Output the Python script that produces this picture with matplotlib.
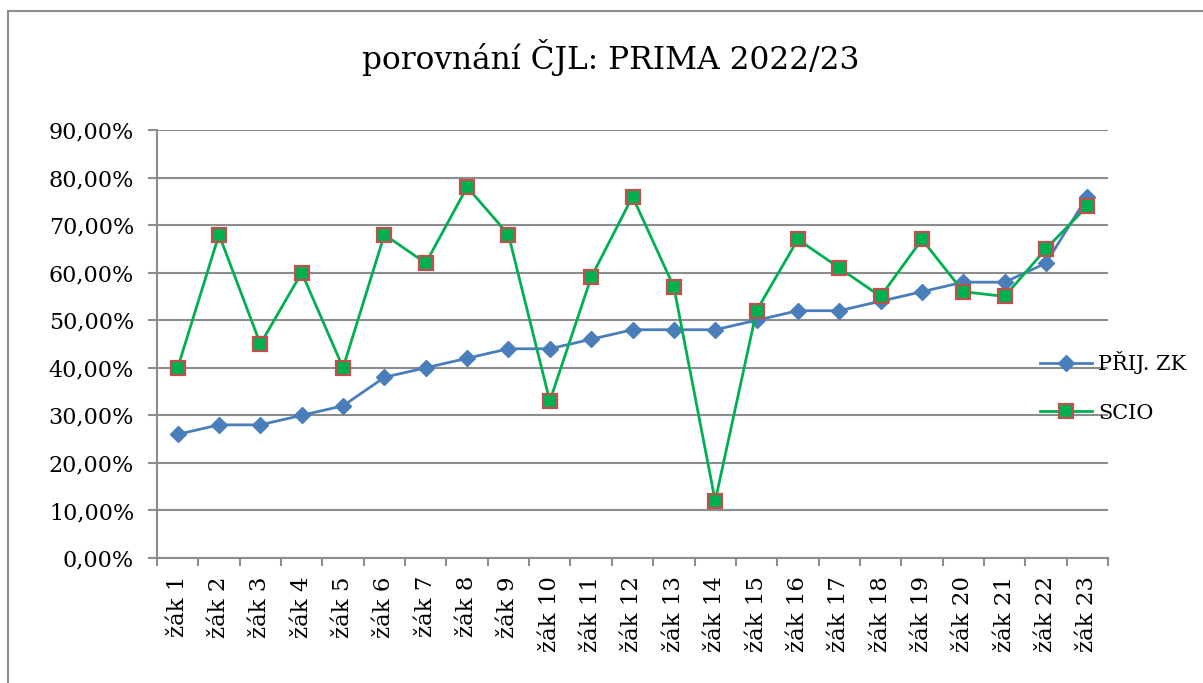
import matplotlib
matplotlib.use("Agg")
import matplotlib.pyplot as plt
from matplotlib.patches import Rectangle
from matplotlib.ticker import FuncFormatter

# data (percent)
zaci = ["žák %d" % i for i in range(1, 24)]
prij_zk = [26, 28, 28, 30, 32, 38, 40, 42, 44, 44, 46, 48, 48, 48, 50, 52, 52, 54, 56, 58, 58, 62, 76]
scio = [40, 68, 45, 60, 40, 68, 62, 78, 68, 33, 59, 76, 57, 12, 52, 67, 61, 55, 67, 56, 55, 65, 74]

plt.rcParams['font.family'] = ['DejaVu Serif']

fig = plt.figure(figsize=(12.03, 6.83), dpi=100)
W, H = 1203, 683

# outer chart frame
fig.patches.append(Rectangle((8 / W, -0.05), 1.2, 1 - 11 / H + 0.05, transform=fig.transFigure,
                             fill=False, edgecolor="#8c8c8c", linewidth=1.5))

ax = fig.add_axes([157 / W, 1 - 558 / H, (1108 - 157) / W, (558 - 130) / H])

x = range(len(zaci))
ax.plot(x, prij_zk, color="#4A7EBB", linewidth=2.0, marker="D", markersize=8.5,
        markerfacecolor="#4A7EBB", markeredgecolor="#4A7EBB", label="PŘIJ. ZK", zorder=3)
ax.plot(x, scio, color="#00B050", linewidth=2.0, marker="s", markersize=10,
        markerfacecolor="#00B050", markeredgecolor="#C0504D", markeredgewidth=1.6,
        label="SCIO", zorder=4)

ax.set_xlim(-0.5, len(zaci) - 0.5)
ax.set_ylim(0, 90)
ax.set_yticks(range(0, 91, 10))
ax.yaxis.set_major_formatter(FuncFormatter(lambda v, p: ("%.2f%%" % v).replace(".", ",")))
ax.grid(axis="y", color="#8c8c8c", linewidth=1.5)
ax.set_axisbelow(True)

ax.set_xticks(list(x))
ax.set_xticklabels(zaci, rotation=90, fontsize=16.5)
ax.tick_params(axis="x", length=0, pad=13)
ax.set_xticks([i - 0.5 for i in range(len(zaci) + 1)], minor=True)
ax.tick_params(axis="x", which="minor", length=6, color="#8c8c8c", width=1.5)
ax.tick_params(axis="y", length=6.5, color="#8c8c8c", width=1.5, labelsize=16, pad=10)

for s in ["top", "right"]:
    ax.spines[s].set_visible(False)
for s in ["left", "bottom"]:
    ax.spines[s].set_color("#8c8c8c")
    ax.spines[s].set_linewidth(1.5)

fig.text(611 / W, 1 - 58 / H, "porovnání ČJL: PRIMA 2022/23", ha="center", va="center", fontsize=22.5)

fig.legend(loc="center left", bbox_to_anchor=(1040 / W, 1 - 387 / H), frameon=False,
           fontsize=15, handlelength=2.5, handletextpad=0.3, labelspacing=1.4, borderpad=0,
           borderaxespad=0)

fig.savefig("out.png", dpi=100)
